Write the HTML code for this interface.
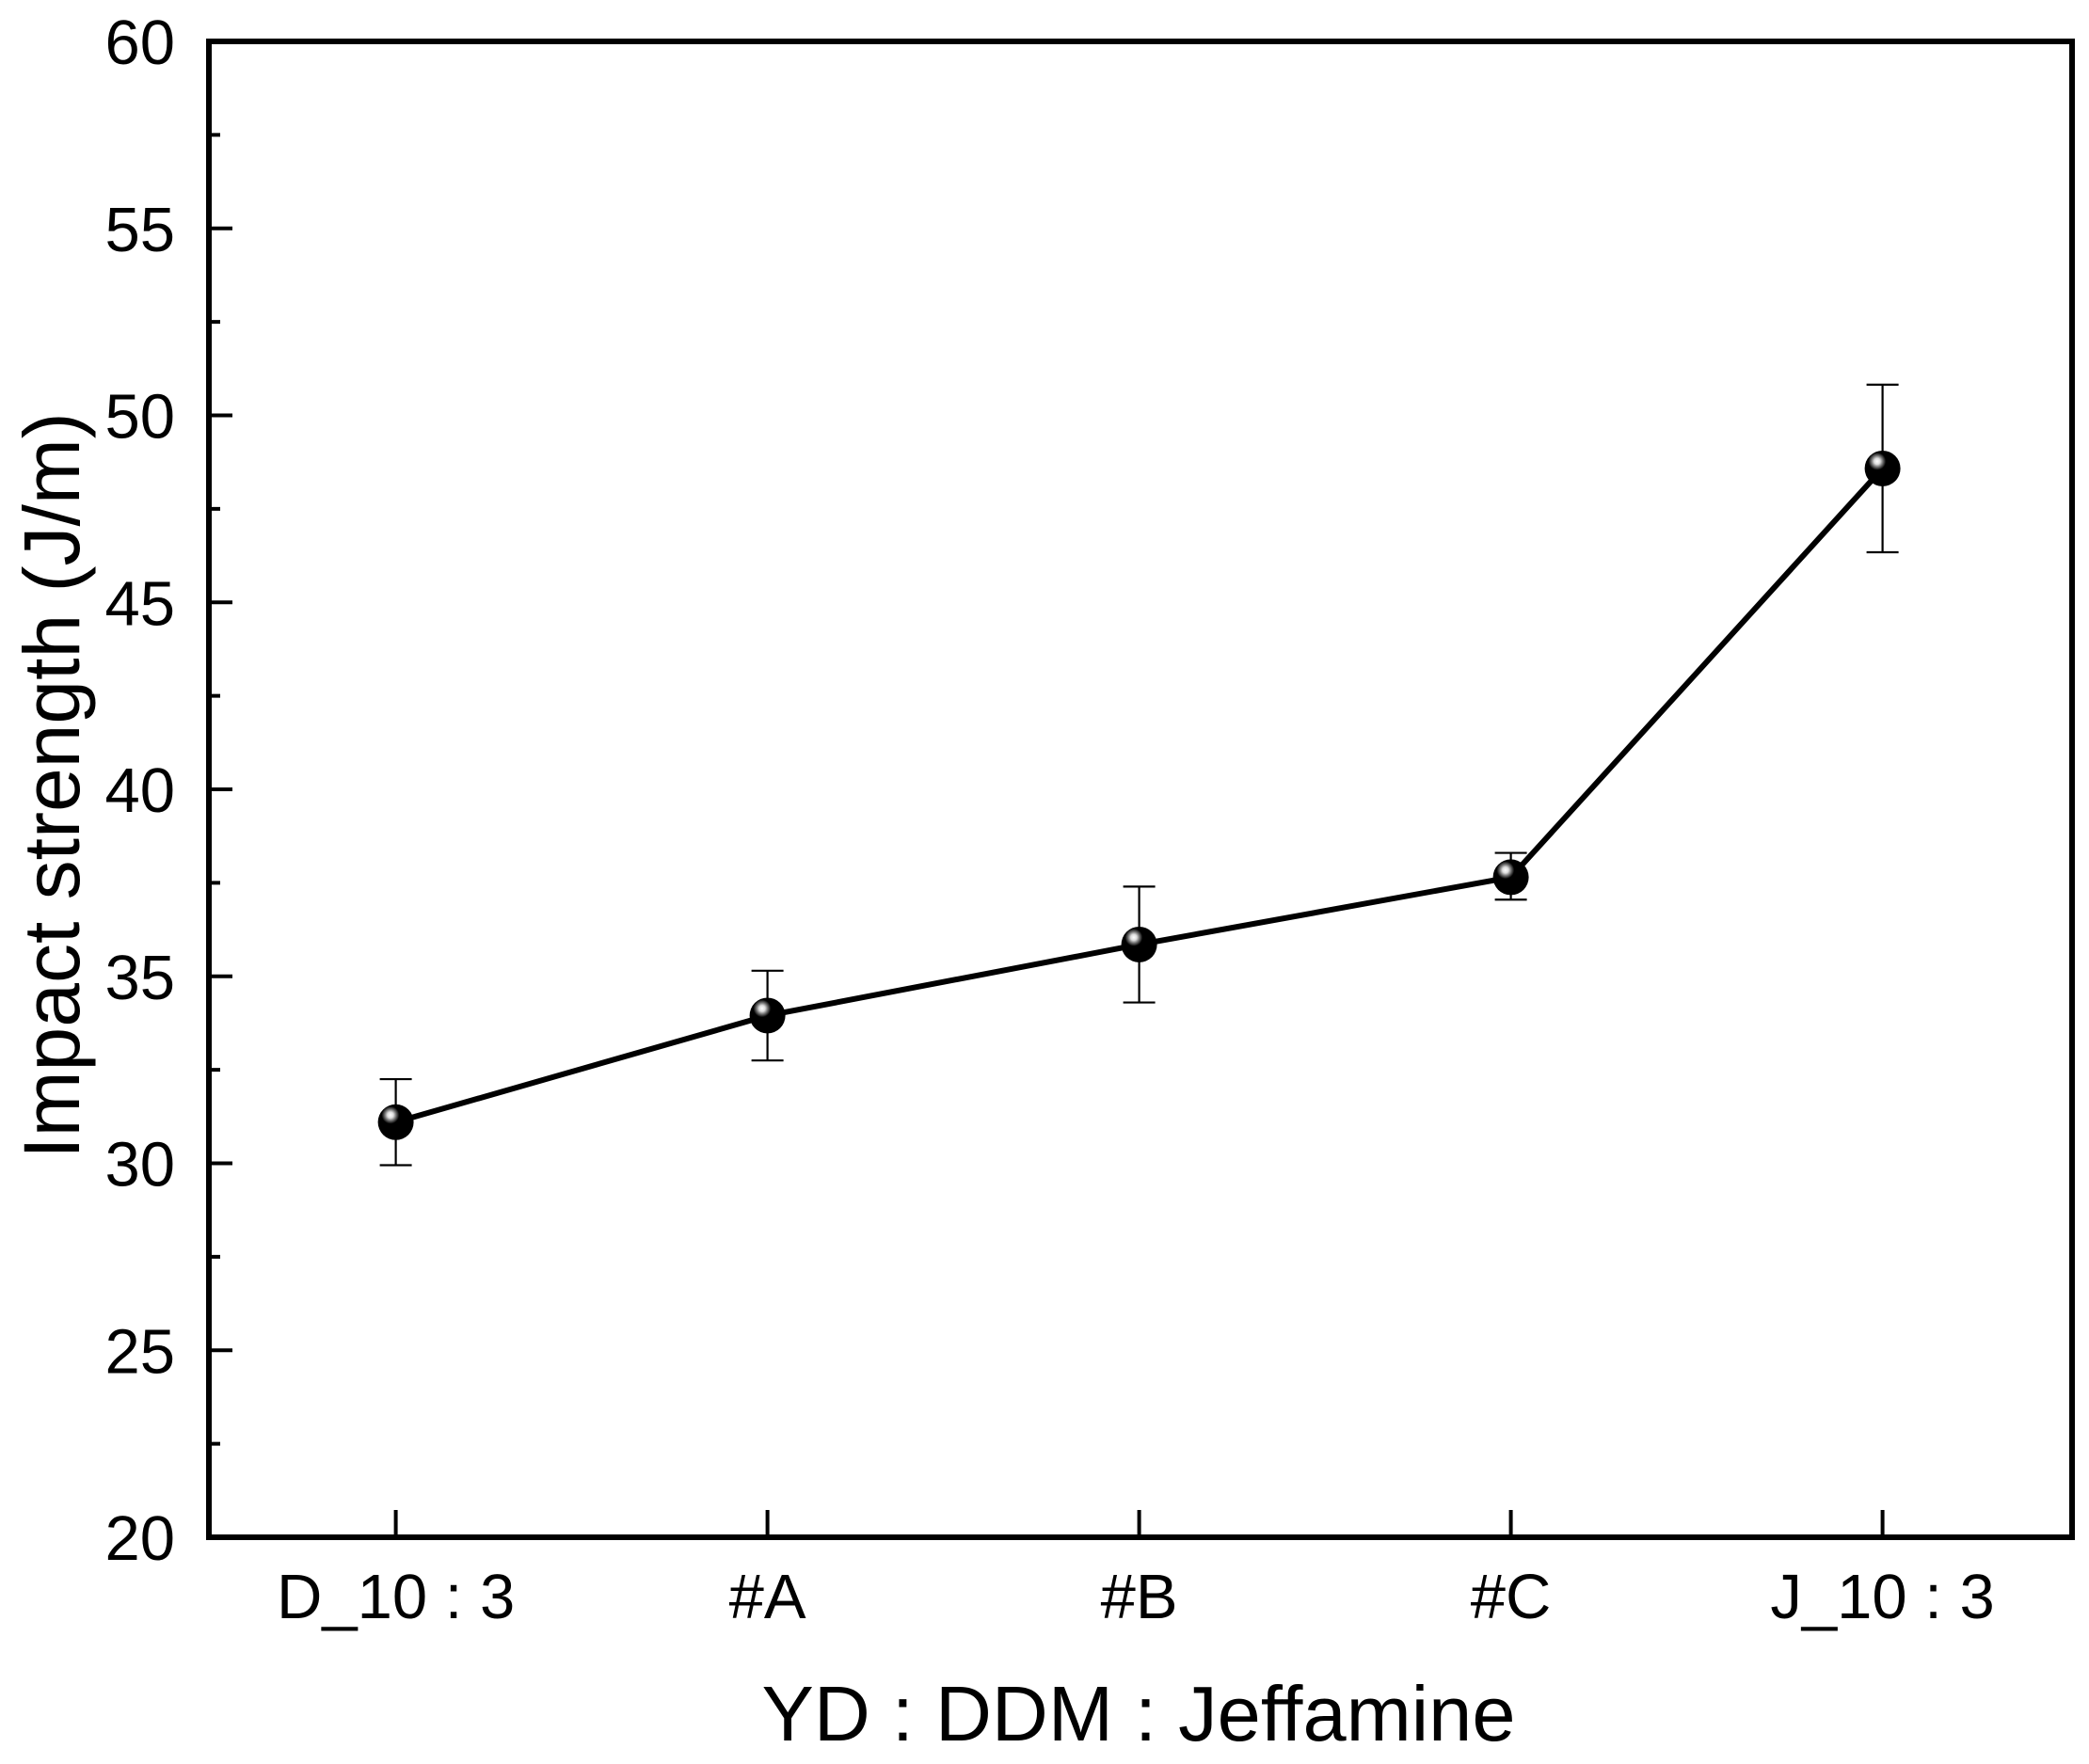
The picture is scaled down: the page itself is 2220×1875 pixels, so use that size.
<!DOCTYPE html>
<html><head><meta charset="utf-8"><style>html,body{margin:0;padding:0;background:#fff}svg{display:block}</style></head>
<body>
<svg id="chart" width="2220" height="1875" xmlns="http://www.w3.org/2000/svg" font-family="'Liberation Sans', Arial, sans-serif">
<defs>
<radialGradient id="ball" cx="0.35" cy="0.3" r="0.7">
<stop offset="0" stop-color="#fff"/><stop offset="0.12" stop-color="#ddd"/><stop offset="0.22" stop-color="#777"/><stop offset="0.35" stop-color="#000"/><stop offset="1" stop-color="#000"/>
</radialGradient>
</defs>
<g id="plot"></g>
</svg>
<script>
const categories = ["D_10 : 3", "#A", "#B", "#C", "J_10 : 3"];
const values = [31.1, 33.95, 35.85, 37.65, 48.58];
const errUpper = [32.25, 35.15, 37.4, 38.3, 50.82];
const errLower = [29.95, 32.75, 34.3, 37.05, 46.34];
const yTicks = [20, 25, 30, 35, 40, 45, 50, 55, 60];

const NS = "http://www.w3.org/2000/svg";
const L = 222, R = 2202, T = 44, B = 1634;
const yMin = 20, yMax = 60;
const xFirst = 420.6, xStep = 395;
function xPos(i){ return xFirst + i * xStep; }
function yPos(v){ return B - (v - yMin) / (yMax - yMin) * (B - T); }
const g = document.getElementById('plot');
function el(tag, attrs, parent){ const e = document.createElementNS(NS, tag); for (const k in attrs) e.setAttribute(k, attrs[k]); (parent||g).appendChild(e); return e; }

const frame = el('rect', {x:L, y:T, width:R-L, height:B-T, fill:'none', stroke:'#000', 'stroke-width':6});



yTicks.forEach((v, i) => {
  const y = yPos(v);
  const t = el('line', {x1:L, x2:L+25, y1:y, y2:y, stroke:'#000', 'stroke-width':4});
  
  
  const lbl = el('text', {x:186, y:y+24, 'text-anchor':'end', 'font-size':67});
  lbl.textContent = v;
  
  
  if (i < yTicks.length - 1) {
    const ym = yPos((v + yTicks[i+1]) / 2);
    const m = el('line', {x1:L, x2:L+12, y1:ym, y2:ym, stroke:'#000', 'stroke-width':4});
    
    
  }
});

categories.forEach((c, i) => {
  const x = xPos(i);
  const t = el('line', {x1:x, x2:x, y1:B, y2:B-29, stroke:'#000', 'stroke-width':4});
  
  
  const lbl = el('text', {x:x, y:1720, 'text-anchor':'middle', 'font-size':67});
  lbl.textContent = c;
  
  
});

categories.forEach((c, i) => {
  const x = xPos(i);
  const e = el('path', {d:`M${x-17},${yPos(errUpper[i])}H${x+17}M${x},${yPos(errUpper[i])}V${yPos(errLower[i])}M${x-17},${yPos(errLower[i])}H${x+17}`, stroke:'#000', 'stroke-width':2.2, fill:'none'});
  
  
});

const line = el('polyline', {points: values.map((v,i)=>xPos(i)+','+yPos(v)).join(' '), fill:'none', stroke:'#000', 'stroke-width':6, 'stroke-linejoin':'round'});



values.forEach((v, i) => {
  const p = el('circle', {cx:xPos(i), cy:yPos(v), r:19, fill:'url(#ball)'});
  
  
});

const xt = el('text', {x:1210, y:1850, 'text-anchor':'middle', 'font-size':83});
xt.textContent = 'YD : DDM : Jeffamine';



const yt = el('text', {x:0, y:0, 'text-anchor':'middle', 'font-size':84, transform:'translate(84,835) rotate(-90)'});
yt.textContent = 'Impact strength (J/m)';


</script>
</body></html>
